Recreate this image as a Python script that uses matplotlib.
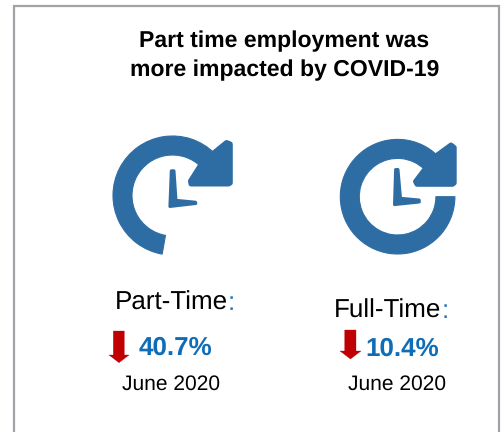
import matplotlib
matplotlib.use("Agg")
import matplotlib.pyplot as plt
from matplotlib.patches import Wedge, Polygon

# Employment decline by job type
categories = ["Part-Time", "Full-Time"]
declines = [40.7, 10.4]
period = "June 2020"
title_lines = ["Part time employment was", "more impacted by COVID-19"]

ICON = "#2E6DA4"
RED = "#C00000"
BLUE = "#0F6CB6"
COLON = "#2E75B6"
FRAME = "#A1A1A8"

plt.rcParams["font.family"] = ["Liberation Sans", "DejaVu Sans"]
plt.rcParams["text.hinting"] = "no_hinting"
plt.rcParams["text.hinting_factor"] = 1

fig = plt.figure(figsize=(5.03, 4.32), dpi=100, facecolor="white")
ax = fig.add_axes([0, 0, 1, 1])
ax.set_xlim(0, 503)
ax.set_ylim(432, 0)
ax.axis("off")

# Open-bottomed frame around the panel
ax.plot([14.3, 14.3, 499, 499], [432, 6, 6, 432], color=FRAME, lw=1.6,
        solid_joinstyle="miter", solid_capstyle="butt")

for line, y in zip(title_lines, [47, 76]):
    ax.text(284.5, y, line, ha="center", va="baseline", fontsize=16.8, fontweight="bold", color="black")


def solid(points, color=ICON, round_px=3.0):
    ax.add_patch(Polygon(points, closed=True, facecolor=color, edgecolor=color,
                         lw=round_px * 0.72, joinstyle="round"))


def clock_icon(cx, cy, r_out, width, sweep_end, head, hands):
    # The y axis is inverted, so angles are mirrored for the wedge
    ax.add_patch(Wedge((cx, cy), r_out - 0.5, 360 - sweep_end, 360 - 45, width=width - 1,
                       facecolor=ICON, edgecolor=ICON, lw=0.8, joinstyle="round"))
    solid(head, round_px=5.0)
    solid(hands, round_px=3.0)


clock_icon(172.5, 195.5, 60, 20, 260,
           [(213, 153.5), (226.5, 142.5), (230.3, 144), (230.3, 183), (228.5, 184), (191, 184), (190.5, 181), (200, 166)],
           [(171.3, 170.8), (174, 170.8), (176, 200.3), (195.5, 202.2), (195.8, 203.5), (169.9, 206.5)])

clock_icon(397.6, 196.7, 57.8, 20, 360,
           [(436.5, 155.5), (451, 145), (454.2, 147.5), (454.2, 183), (452.5, 184.3), (417, 184.3), (415.5, 181.5), (425, 169)],
           [(395.6, 169.5), (398, 169.5), (400.5, 198.3), (419.2, 200), (419.3, 202), (394.5, 204.6)])


def down_arrow(x0, x1, s0, s1, top, shoulder, tip):
    mid = (x0 + x1) / 2
    solid([(s0, top), (s1, top), (s1, shoulder), (x1, shoulder), (mid, tip), (x0, shoulder), (s0, shoulder)],
          color=RED, round_px=0.3)


# Part-time column
ax.text(115, 310, categories[0], fontsize=19.0, color="black", va="baseline")
ax.text(228, 310, ":", fontsize=19.0, color=COLON, va="baseline")
down_arrow(109, 129, 113.3, 124.3, 331, 355, 362.7)
ax.text(139, 355, f"{declines[0]:.1f}%", fontsize=18.5, fontweight="bold", color=BLUE, va="baseline")
ax.text(122, 390, period, fontsize=15.0, color="black", va="baseline")

# Full-time column
ax.text(334, 317.5, categories[1], fontsize=19.0, color="black", va="baseline")
ax.text(442, 317.5, ":", fontsize=19.0, color=COLON, va="baseline")
down_arrow(340, 361, 344.7, 356, 330, 351, 359)
ax.text(365, 356, f"{declines[1]:.1f}%", fontsize=18.5, fontweight="bold", color=BLUE, va="baseline")
ax.text(348.3, 390, period, fontsize=15.0, color="black", va="baseline")

fig.savefig("out.png", dpi=100, facecolor="white")
